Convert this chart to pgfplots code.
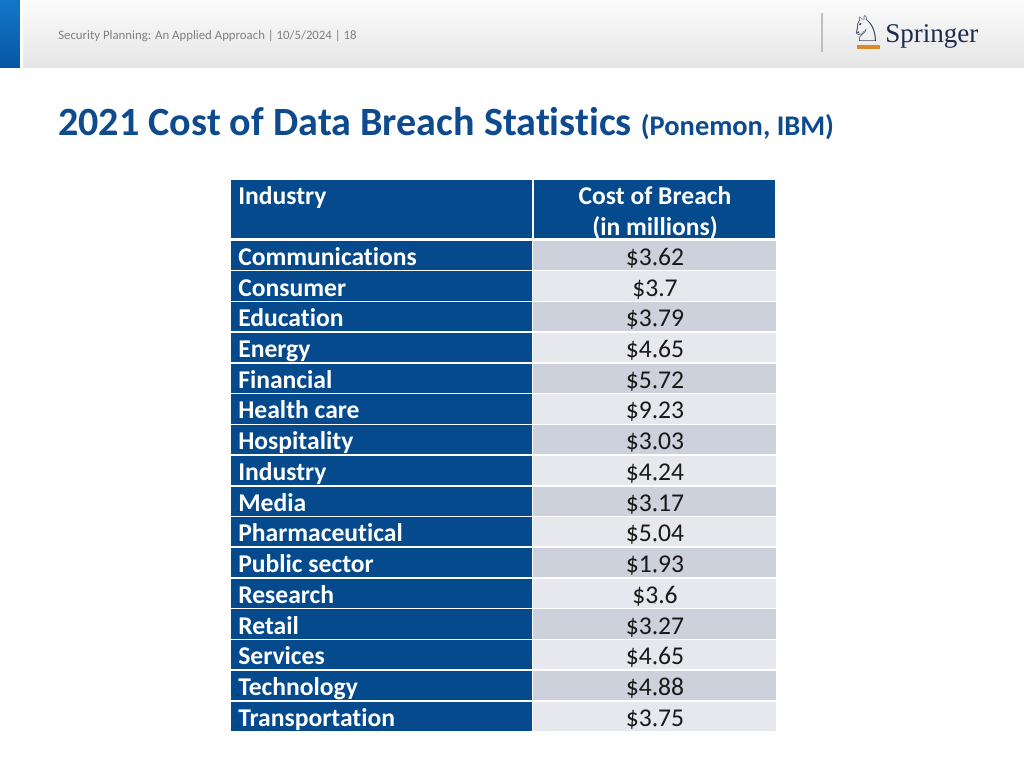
\documentclass[border=0pt]{standalone}
\usepackage{fontspec}
\setmainfont{Carlito}[Ligatures=NoCommon]
\newfontfamily\symfont{DejaVu Sans}
\newfontfamily\logofont{Liberation Serif}
\usepackage{pgfplots}
\pgfplotsset{compat=1.18}
\usepackage{pgfplotstable}

\definecolor{cellblue}{HTML}{044A8C}
\definecolor{titleblue}{HTML}{0E4A8E}
\definecolor{banddark}{HTML}{CDD1DC}
\definecolor{bandlight}{HTML}{E7E8EE}
\definecolor{logonavy}{HTML}{1E2B4E}
\definecolor{logoorange}{HTML}{D98A2B}
\definecolor{bartop}{HTML}{1477C9}
\definecolor{barbottom}{HTML}{0755A5}

% i = row index, band = 1 for the darker stripe
\pgfplotstableread[col sep=comma]{
i,name,cost,band
0,Communications,3.62,1
1,Consumer,3.7,0
2,Education,3.79,1
3,Energy,4.65,0
4,Financial,5.72,1
5,Health care,9.23,0
6,Hospitality,3.03,1
7,Industry,4.24,0
8,Media,3.17,1
9,Pharmaceutical,5.04,0
10,Public sector,1.93,1
11,Research,3.6,0
12,Retail,3.27,1
13,Services,4.65,0
14,Technology,4.88,1
15,Transportation,3.75,0
}\breach

\begin{document}
\begin{tikzpicture}
\begin{axis}[
  scale only axis, width=720pt, height=540pt,
  xmin=0, xmax=1024, ymin=0, ymax=768, y dir=reverse,
  hide axis, clip=false,
]
% slide background and header band
\fill[white] (axis cs:0,0) rectangle (axis cs:1024,768);
\shade[top color=white!97!gray, bottom color=black!10] (axis cs:0,0) rectangle (axis cs:1024,68);
\shade[top color=bartop, bottom color=barbottom] (axis cs:0,0) rectangle (axis cs:20,68);
\fill[white] (axis cs:20,0) rectangle (axis cs:23,68);
\draw[black!25, line width=1pt] (axis cs:822,13) -- (axis cs:822,52);
\node[anchor=base west, inner sep=0pt, text=black!50, font=\fontsize{9}{11}\selectfont]
  at (axis cs:58,40) {Security Planning: An Applied Approach | 10/5/2024 | 18};
% logo
\node[anchor=center, inner sep=0pt, text=logonavy, font=\symfont\fontsize{25}{28}\selectfont]
  at (axis cs:866,29) {♘};
\fill[logoorange] (axis cs:857,45.5) rectangle (axis cs:880,49);
\node[anchor=base west, inner sep=0pt, text=logonavy, font=\logofont\fontsize{19}{22}\selectfont]
  at (axis cs:885,43) {Springer};
% title
\node[anchor=base west, inner sep=0pt, text=titleblue, font=\fontsize{28.2}{34}\selectfont\bfseries]
  (title) at (axis cs:58,136) {2021 Cost of Data Breach Statistics};
\node[anchor=base west, inner sep=0pt, text=titleblue, font=\fontsize{20}{24}\selectfont\bfseries]
  at ([xshift=6pt]title.base east) {(Ponemon, IBM)};
% table header
\fill[cellblue] (axis cs:231,180) rectangle (axis cs:532,238.5);
\fill[cellblue] (axis cs:534,180) rectangle (axis cs:775,238.5);
\node[anchor=base west, inner sep=0pt, text=white, font=\fontsize{18}{21}\selectfont\bfseries]
  at (axis cs:238,205) {Industry};
\node[anchor=base, inner sep=0pt, text=white, font=\fontsize{18}{21}\selectfont\bfseries]
  at (axis cs:655,205) {Cost of Breach};
\node[anchor=base, inner sep=0pt, text=white, font=\fontsize{18}{21}\selectfont\bfseries]
  at (axis cs:655,236) {(in millions)};

% cell backgrounds
\addplot[only marks, mark=square*, mark size=9.914pt, color=cellblue,
  mark options={line width=0pt, xscale=10.67}]
  table[x expr=381.5, y expr=255.3+30.73*\thisrow{i}] {\breach};
\addplot[only marks, mark=square*, mark size=9.914pt, color=banddark,
  mark options={line width=0pt, xscale=8.55},
  restrict expr to domain={\thisrow{band}}{0.5:1.5}]
  table[x expr=654.5, y expr=255.3+30.73*\thisrow{i}] {\breach};
\addplot[only marks, mark=square*, mark size=9.914pt, color=bandlight,
  mark options={line width=0pt, xscale=8.55},
  restrict expr to domain={\thisrow{band}}{-0.5:0.5}]
  table[x expr=654.5, y expr=255.3+30.73*\thisrow{i}] {\breach};

% cell texts
\addplot[only marks, mark=*, mark size=0.01pt, mark options={draw=none, fill=none},
  point meta=explicit symbolic, nodes near coords={\pgfplotspointmeta},
  every node near coord/.append style={anchor=base west, inner sep=0pt, text=white,
    font=\fontsize{18}{21}\selectfont\bfseries}]
  table[x expr=238, y expr=265.3+30.73*\thisrow{i}, meta=name] {\breach};
\addplot[only marks, mark=*, mark size=0.01pt, mark options={draw=none, fill=none},
  point meta=explicit symbolic, nodes near coords={\$\pgfplotspointmeta},
  every node near coord/.append style={anchor=base, inner sep=0pt, text=black!90,
    font=\fontsize{18}{21}\selectfont}]
  table[x expr=655, y expr=265.3+30.73*\thisrow{i}, meta=cost] {\breach};
\end{axis}
\end{tikzpicture}
\end{document}
